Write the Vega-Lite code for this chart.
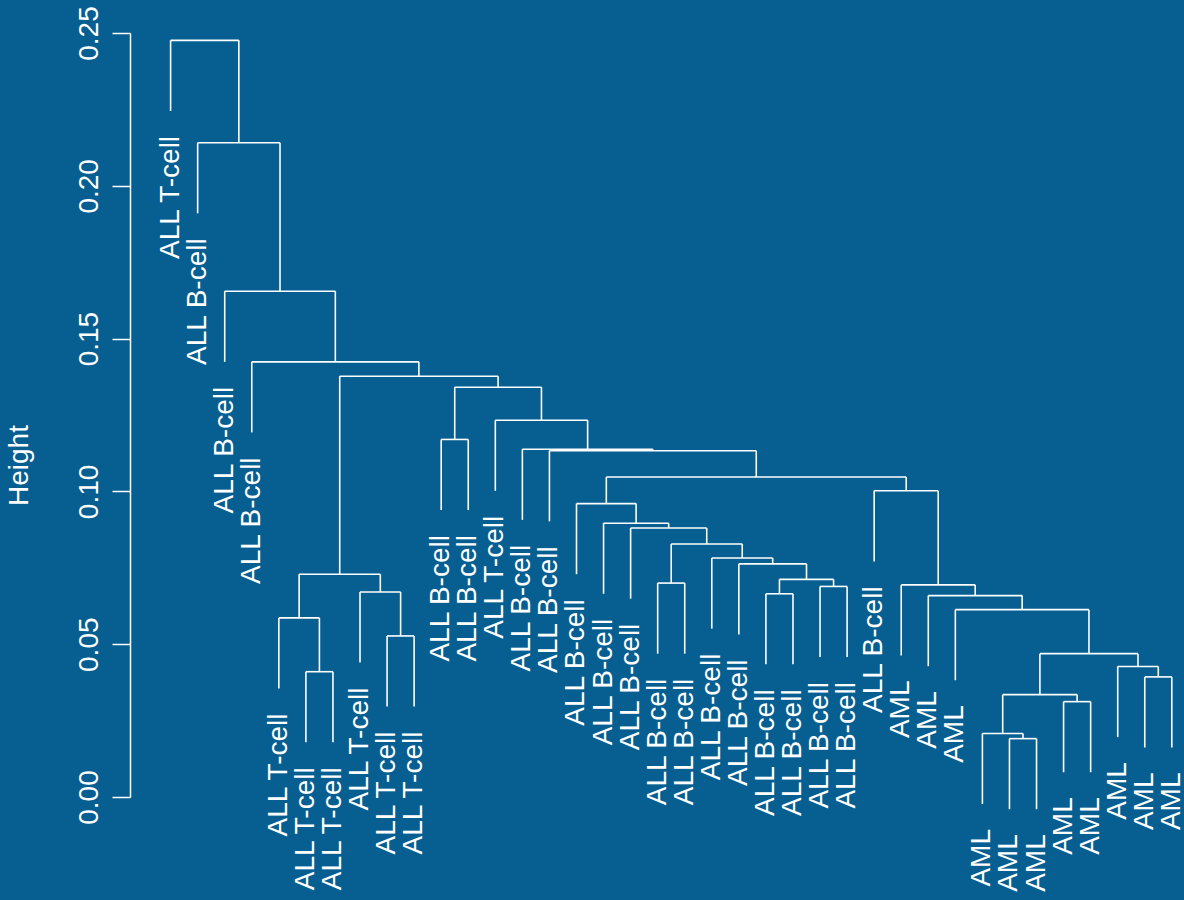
{
  "$schema": "https://vega.github.io/schema/vega-lite/v6.json",
  "width": 1054,
  "height": 764,
  "autosize": {"type": "none"},
  "padding": {"left": 130, "top": 33, "right": 0, "bottom": 103},
  "background": "#065E91",
  "config": {
    "view": {"stroke": null},
    "font": "Liberation Sans",
    "axisY": {
      "grid": false,
      "domainColor": "white", "domainWidth": 1.5,
      "tickColor": "white", "tickWidth": 1.5, "tickSize": 18,
      "labelColor": "white", "labelFontSize": 28, "labelFont": "Liberation Sans",
      "labelAngle": 270, "labelAlign": "center", "labelBaseline": "alphabetic",
      "labelPadding": 15, "labelOverlap": false, "labelFlush": false,
      "titleColor": "white", "titleFontSize": 28, "titleFontWeight": "normal", "titleFont": "Liberation Sans",
      "titleAngle": 270, "titleX": -103, "titleY": 432, "titleBaseline": "alphabetic", "titleAlign": "center"
    }
  },
  "datasets": {
    "merges": [
      {"xl": 1, "yl": 0.2245, "xr": 3.522, "yr": 0.2141, "h": 0.2476},
      {"xl": 2, "yl": 0.1910, "xr": 5.044, "yr": 0.1655, "h": 0.2141},
      {"xl": 3, "yl": 0.1424, "xr": 7.088, "yr": 0.1424, "h": 0.1655},
      {"xl": 4, "yl": 0.1193, "xr": 10.176, "yr": 0.1377, "h": 0.1424},
      {"xl": 7.25, "yl": 0.0729, "xr": 13.103, "yr": 0.1341, "h": 0.1377},
      {"xl": 5.75, "yl": 0.0586, "xr": 8.75, "yr": 0.0671, "h": 0.0729},
      {"xl": 5, "yl": 0.0355, "xr": 6.5, "yr": 0.0410, "h": 0.0586},
      {"xl": 6, "yl": 0.0179, "xr": 7, "yr": 0.0179, "h": 0.0410},
      {"xl": 8, "yl": 0.0440, "xr": 9.5, "yr": 0.0527, "h": 0.0671},
      {"xl": 9, "yl": 0.0296, "xr": 10, "yr": 0.0296, "h": 0.0527},
      {"xl": 11.5, "yl": 0.1170, "xr": 14.705, "yr": 0.1233, "h": 0.1341},
      {"xl": 11, "yl": 0.0939, "xr": 12, "yr": 0.0939, "h": 0.1170},
      {"xl": 13, "yl": 0.1002, "xr": 16.411, "yr": 0.1138, "h": 0.1233},
      {"xl": 14, "yl": 0.0907, "xr": 18.821, "yr": 0.1133, "h": 0.1138},
      {"xl": 15, "yl": 0.0902, "xr": 22.643, "yr": 0.1047, "h": 0.1133},
      {"xl": 17.102, "yl": 0.0960, "xr": 28.184, "yr": 0.1002, "h": 0.1047},
      {"xl": 16, "yl": 0.0729, "xr": 18.203, "yr": 0.0896, "h": 0.0960},
      {"xl": 17, "yl": 0.0665, "xr": 19.406, "yr": 0.0880, "h": 0.0896},
      {"xl": 18, "yl": 0.0649, "xr": 20.813, "yr": 0.0828, "h": 0.0880},
      {"xl": 19.5, "yl": 0.0700, "xr": 22.125, "yr": 0.0782, "h": 0.0828},
      {"xl": 19, "yl": 0.0469, "xr": 20, "yr": 0.0469, "h": 0.0700},
      {"xl": 21, "yl": 0.0551, "xr": 23.25, "yr": 0.0763, "h": 0.0782},
      {"xl": 22, "yl": 0.0532, "xr": 24.5, "yr": 0.0712, "h": 0.0763},
      {"xl": 23.5, "yl": 0.0665, "xr": 25.5, "yr": 0.0689, "h": 0.0712},
      {"xl": 23, "yl": 0.0434, "xr": 24, "yr": 0.0434, "h": 0.0665},
      {"xl": 25, "yl": 0.0458, "xr": 26, "yr": 0.0458, "h": 0.0689},
      {"xl": 27, "yl": 0.0771, "xr": 29.367, "yr": 0.0694, "h": 0.1002},
      {"xl": 28, "yl": 0.0463, "xr": 30.734, "yr": 0.0659, "h": 0.0694},
      {"xl": 29, "yl": 0.0428, "xr": 32.469, "yr": 0.0613, "h": 0.0659},
      {"xl": 30, "yl": 0.0382, "xr": 34.938, "yr": 0.0469, "h": 0.0613},
      {"xl": 33.125, "yl": 0.0335, "xr": 36.75, "yr": 0.0427, "h": 0.0469},
      {"xl": 31.75, "yl": 0.0208, "xr": 34.5, "yr": 0.0312, "h": 0.0335},
      {"xl": 31, "yl": -0.0023, "xr": 32.5, "yr": 0.0191, "h": 0.0208},
      {"xl": 32, "yl": -0.0040, "xr": 33, "yr": -0.0040, "h": 0.0191},
      {"xl": 34, "yl": 0.0081, "xr": 35, "yr": 0.0081, "h": 0.0312},
      {"xl": 36, "yl": 0.0196, "xr": 37.5, "yr": 0.0393, "h": 0.0427},
      {"xl": 37, "yl": 0.0162, "xr": 38, "yr": 0.0162, "h": 0.0393}
    ],
    "leaves": [
      {"pos": 1, "label": "ALL T-cell", "bottom": 0.2245},
      {"pos": 2, "label": "ALL B-cell", "bottom": 0.1910},
      {"pos": 3, "label": "ALL B-cell", "bottom": 0.1424},
      {"pos": 4, "label": "ALL B-cell", "bottom": 0.1193},
      {"pos": 5, "label": "ALL T-cell", "bottom": 0.0355},
      {"pos": 6, "label": "ALL T-cell", "bottom": 0.0179},
      {"pos": 7, "label": "ALL T-cell", "bottom": 0.0179},
      {"pos": 8, "label": "ALL T-cell", "bottom": 0.0440},
      {"pos": 9, "label": "ALL T-cell", "bottom": 0.0296},
      {"pos": 10, "label": "ALL T-cell", "bottom": 0.0296},
      {"pos": 11, "label": "ALL B-cell", "bottom": 0.0939},
      {"pos": 12, "label": "ALL B-cell", "bottom": 0.0939},
      {"pos": 13, "label": "ALL T-cell", "bottom": 0.1002},
      {"pos": 14, "label": "ALL B-cell", "bottom": 0.0907},
      {"pos": 15, "label": "ALL B-cell", "bottom": 0.0902},
      {"pos": 16, "label": "ALL B-cell", "bottom": 0.0729},
      {"pos": 17, "label": "ALL B-cell", "bottom": 0.0665},
      {"pos": 18, "label": "ALL B-cell", "bottom": 0.0649},
      {"pos": 19, "label": "ALL B-cell", "bottom": 0.0469},
      {"pos": 20, "label": "ALL B-cell", "bottom": 0.0469},
      {"pos": 21, "label": "ALL B-cell", "bottom": 0.0551},
      {"pos": 22, "label": "ALL B-cell", "bottom": 0.0532},
      {"pos": 23, "label": "ALL B-cell", "bottom": 0.0434},
      {"pos": 24, "label": "ALL B-cell", "bottom": 0.0434},
      {"pos": 25, "label": "ALL B-cell", "bottom": 0.0458},
      {"pos": 26, "label": "ALL B-cell", "bottom": 0.0458},
      {"pos": 27, "label": "ALL B-cell", "bottom": 0.0771},
      {"pos": 28, "label": "AML\u00a0", "bottom": 0.0463},
      {"pos": 29, "label": "AML\u00a0", "bottom": 0.0428},
      {"pos": 30, "label": "AML\u00a0", "bottom": 0.0382},
      {"pos": 31, "label": "AML\u00a0", "bottom": -0.0023},
      {"pos": 32, "label": "AML\u00a0", "bottom": -0.0040},
      {"pos": 33, "label": "AML\u00a0", "bottom": -0.0040},
      {"pos": 34, "label": "AML\u00a0", "bottom": 0.0081},
      {"pos": 35, "label": "AML\u00a0", "bottom": 0.0081},
      {"pos": 36, "label": "AML\u00a0", "bottom": 0.0196},
      {"pos": 37, "label": "AML\u00a0", "bottom": 0.0162},
      {"pos": 38, "label": "AML\u00a0", "bottom": 0.0162}
    ]
  },
  "layer": [
    {
      "data": {"name": "merges"},
      "mark": {"type": "rule", "color": "white", "strokeWidth": 1.6},
      "encoding": {
        "x": {"field": "xl", "type": "quantitative", "scale": {"domain": [-0.5, 38.45], "nice": false, "zero": false}, "axis": null},
        "x2": {"field": "xr"},
        "y": {"field": "h", "type": "quantitative", "scale": {"domain": [0, 0.25], "nice": false, "zero": false}, "axis": {"title": "Height", "values": [0, 0.05, 0.1, 0.15, 0.2, 0.25], "format": ".2f"}},
        "y2": {"field": "h"}
      }
    },
    {
      "data": {"name": "merges"},
      "mark": {"type": "rule", "color": "white", "strokeWidth": 1.6},
      "encoding": {
        "x": {"field": "xl", "type": "quantitative", "axis": null},
        "y": {"field": "yl", "type": "quantitative", "axis": {"title": "Height", "values": [0, 0.05, 0.1, 0.15, 0.2, 0.25], "format": ".2f"}},
        "y2": {"field": "h"}
      }
    },
    {
      "data": {"name": "merges"},
      "mark": {"type": "rule", "color": "white", "strokeWidth": 1.6},
      "encoding": {
        "x": {"field": "xr", "type": "quantitative", "axis": null},
        "y": {"field": "yr", "type": "quantitative", "axis": {"title": "Height", "values": [0, 0.05, 0.1, 0.15, 0.2, 0.25], "format": ".2f"}},
        "y2": {"field": "h"}
      }
    },
    {
      "data": {"name": "leaves"},
      "mark": {"type": "text", "color": "white", "fontSize": 28, "font": "Liberation Sans", "angle": 270, "align": "right", "baseline": "middle", "dx": -25},
      "encoding": {
        "x": {"field": "pos", "type": "quantitative", "axis": null},
        "y": {"field": "bottom", "type": "quantitative", "axis": {"title": "Height", "values": [0, 0.05, 0.1, 0.15, 0.2, 0.25], "format": ".2f"}},
        "text": {"field": "label"}
      }
    }
  ]
}
